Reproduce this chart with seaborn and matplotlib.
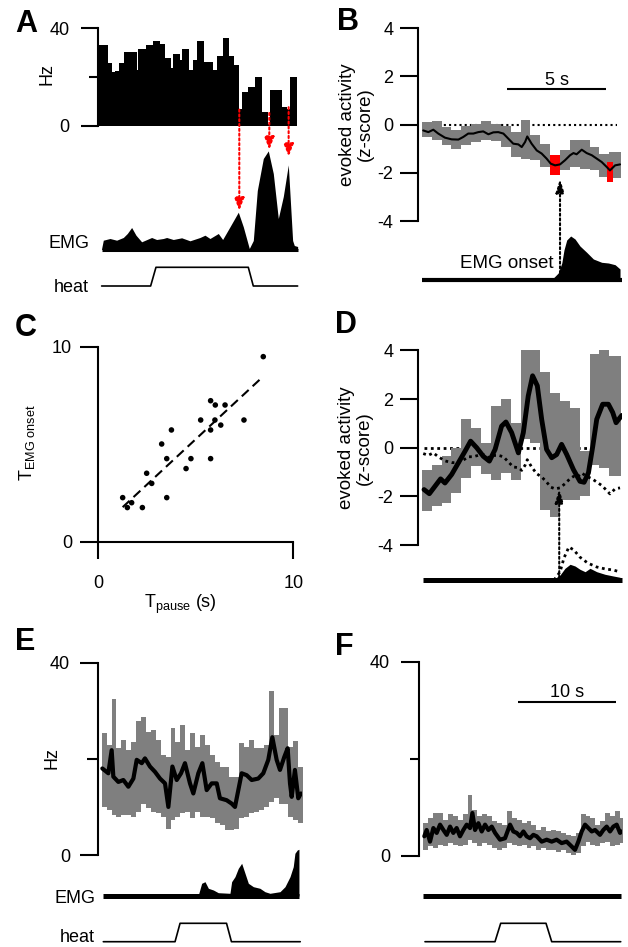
import numpy as np
import matplotlib
matplotlib.use("Agg")
import matplotlib.pyplot as plt
import seaborn as sns

# ---------------- data ----------------
# A: single-trial rate histogram (Hz), EMG envelope and heat stimulus
a_edges = [0, 1.3, 2.0, 2.4, 3.0, 3.8, 5.65, 5.9, 7.0, 7.1, 8.15, 9.15, 9.9, 10.8, 11.15,
           12.15, 12.5, 13.55, 14.05, 14.65, 15.8, 17.15, 17.65, 18.55, 19.55, 20.3, 21.0,
           21.4, 22.4, 23.4, 24.5, 25.3, 25.65, 27.4, 28.15, 28.65, 29.65]
a_rate = [33, 25.6, 22.2, 22.5, 25.6, 30.4, 23, 31.5, 18, 33, 34.8, 33.4, 27.7, 23.8, 29.3,
          27, 31.5, 22.9, 27, 34.8, 26, 22.9, 28.8, 35.9, 28.8, 24.9, 6.8, 13.7, 16, 19.9,
          5.5, 0.5, 14.7, 7.8, 7, 19.9]
a_emg_t = [0.4, 0.65, 1.65, 2.65, 3.65, 4.25, 4.9, 5.55, 6.4, 7.9, 8.65, 9.65, 10.15, 11.15,
           12.4, 13.65, 15.15, 15.9, 16.65, 17.9, 18.55, 19.65, 20.9, 21.65, 22.55, 23.15,
           23.75, 24.65, 25.4, 26.15, 26.9, 27.65, 28.4, 29.05, 29.3, 29.8]
a_emg = [1, 9.3, 11, 9.3, 12, 16, 22, 14.3, 7.7, 12, 10, 11, 12, 10, 11.7, 8.7, 12, 14.3, 11,
         16, 10, 22.7, 37.3, 22.7, 1, 9, 59, 91, 98.6, 76, 31, 53, 84.6, 9, 4, 3]
a_heat_t = [0.4, 7.75, 8.55, 22.4, 23.15, 29.8]
a_heat = [0, 0, 1, 1, 0, 0]
a_arrow_t = [21.05, 25.55, 28.45]
a_arrow_from = [6.6, 5.2, 7.6]
a_arrow_to = [39, 100, 93]

# B: population evoked activity aligned to EMG onset (z-score)
b_t = [-6.93, -6.67, -6.42, -6.17, -5.83, -5.49, -5.15, -4.90, -4.65, -4.39, -4.14, -3.89,
       -3.63, -3.38, -3.13, -2.87, -2.62, -2.37, -2.11, -1.94, -1.77, -1.66, -1.44, -1.18,
       -0.93, -0.68, -0.47, -0.25, 0.0, 0.25, 0.51, 0.68, 0.84, 1.10, 1.35, 1.61, 1.86,
       2.11, 2.37, 2.53, 2.79, 3.04]
b_z = [-0.24, -0.31, -0.21, -0.37, -0.54, -0.61, -0.62, -0.51, -0.37, -0.37, -0.31, -0.28,
       -0.40, -0.32, -0.31, -0.37, -0.58, -0.79, -0.82, -0.93, -0.72, -0.49, -0.79, -1.07,
       -1.20, -1.41, -1.62, -1.69, -1.65, -1.48, -1.27, -1.18, -1.23, -1.04, -1.18, -1.27,
       -1.41, -1.55, -1.76, -1.90, -1.69, -1.65]
bd_edges = [-7.0, -6.5, -6.0, -5.5, -5.0, -4.5, -4.0, -3.5, -3.0, -2.5, -2.0, -1.5, -1.0,
            -0.5, 0.0, 0.5, 1.0, 1.5, 2.0, 2.5, 3.1]
b_hi = [0.11, 0.15, -0.10, -0.21, -0.07, 0.04, 0.15, 0.04, -0.07, -0.31, 0.21, -0.44,
        -0.79, -1.27, -1.07, -0.62, -0.62, -0.93, -1.20, -1.14]
b_lo = [-0.51, -0.62, -0.86, -1.00, -0.86, -0.72, -0.65, -0.68, -0.93, -1.34, -1.41, -1.48,
        -1.76, -2.10, -1.90, -1.76, -1.83, -1.90, -2.17, -2.20]
b_red_t0 = [-0.5, 2.4]
b_red_t1 = [0.0, 2.7]
b_red_hi = [-1.27, -1.55]
b_red_lo = [-2.10, -2.38]
b_emg_t = [-0.34, -0.09, 0.09, 0.20, 0.34, 0.54, 0.76, 1.01, 1.35, 1.69, 2.11, 2.45, 2.79, 3.04]
b_emg = [2, 7, 17, 30, 40, 44, 41, 34, 27.7, 21, 17.7, 17, 15.3, 11]

# C: pause time vs EMG onset time
c_x = [8.46, 5.76, 6.00, 6.50, 5.25, 5.98, 6.28, 7.47, 5.76, 3.75, 3.25, 3.51, 4.75, 5.76,
       4.50, 2.48, 2.74, 3.51, 1.25, 1.71, 1.49, 2.26]
c_y = [9.49, 7.23, 7.01, 7.01, 6.24, 6.24, 5.98, 6.24, 5.73, 5.73, 5.01, 4.26, 4.26, 4.26,
       3.75, 3.51, 2.99, 2.26, 2.26, 2.00, 1.75, 1.75]

# D: second population, with B trace as dotted reference
d_t = [-6.89, -6.62, -6.34, -6.05, -5.83, -5.49, -5.15, -4.81, -4.53, -4.22, -3.89, -3.58,
       -3.29, -2.96, -2.74, -2.45, -2.11, -1.86, -1.61, -1.39, -1.15, -0.93, -0.68, -0.42,
       -0.17, 0.08, 0.34, 0.68, 1.01, 1.22, 1.44, 1.66, 1.86, 2.16, 2.45, 2.67, 2.84, 3.04, 3.13]
d_z = [-1.72, -1.89, -1.59, -1.28, -1.45, -1.10, -0.62, -0.14, 0.27, 0.0, -0.35, -0.55,
       -0.07, 0.89, 1.06, 0.62, -0.21, 0.62, 2.13, 2.96, 2.55, 1.17, -0.07, -0.41, -0.28,
       0.14, -0.28, -0.90, -1.38, -1.42, -1.03, 0.07, 1.17, 1.79, 1.79, 1.45, 1.03, 1.24, 1.33]
d_hi = [-0.90, -0.69, -0.35, 0.0, 1.17, 0.83, 0.21, 1.72, 2.00, 1.03, 4.27, 4.00, 3.10,
        2.27, 1.93, 1.65, -0.14, 3.86, 4.20, 3.79]
d_lo = [-2.62, -2.41, -2.27, -1.86, -1.24, -0.76, -1.10, -1.31, -1.03, -1.31, 0.34, 0.20,
        -2.55, -2.83, -2.14, -2.14, -2.00, -0.69, -0.85, -1.17]
d_emg_t = [-0.25, 0, 0.25, 0.51, 0.76, 1.01, 1.27, 1.52, 1.86, 2.28, 2.70, 3.04]
d_emg = [1.7, 5, 11.7, 15.7, 14, 10.7, 8.3, 11.7, 8.3, 5.7, 4, 2.7]
d_emg_ref_t = [-0.3, 0.0, 0.2, 0.45, 0.7, 1.0, 1.4, 1.86, 2.3, 2.7, 3.04]
d_emg_ref = [0, 8, 22, 33, 30, 23, 17, 13, 11, 10, 8]

# E: rate with EMG during heat (Hz)
e_t = [0.06, 0.67, 1.01, 1.18, 1.69, 2.20, 2.71, 3.22, 3.56, 4.07, 4.40, 4.91, 5.42, 5.93,
       6.44, 6.78, 7.19, 7.63, 8.07, 8.47, 8.98, 9.32, 9.83, 10.24, 10.68, 11.19, 11.70,
       12.03, 12.71, 13.22, 13.56, 13.90, 14.24, 14.75, 15.26, 15.93, 16.44, 16.95, 17.36,
       17.80, 18.14, 18.58, 18.92, 19.16, 19.33, 19.66, 20.00, 20.27]
e_hz = [18.0, 17.0, 21.8, 16.3, 15.2, 15.6, 14.2, 15.9, 19.8, 19.1, 20.1, 18.4, 17.3, 15.9,
        14.9, 10.0, 18.4, 15.6, 17.0, 19.1, 14.9, 12.8, 17.0, 19.1, 13.5, 14.9, 14.9, 11.8,
        11.4, 10.7, 10.0, 13.5, 17.0, 16.6, 15.6, 15.9, 17.0, 19.8, 24.5, 19.8, 17.7, 20.4,
        22.2, 14.9, 12.1, 17.7, 11.8, 12.8]
ef_bin = 0.5
e_up = [25.3, 22.9, 32.4, 22.2, 23.9, 21.8, 23.6, 27.9, 28.8, 25.6, 26.0, 23.9, 20.8, 20.4,
        26.5, 23.6, 27.0, 21.8, 25.4, 22.5, 24.9, 22.9, 20.8, 19.4, 18.4, 18.4, 16.3, 16.3,
        23.2, 22.5, 23.9, 22.2, 22.2, 22.9, 34.2, 24.9, 30.5, 30.5, 22.5, 23.8, 18.4]
e_lo = [10.0, 9.4, 8.3, 8.0, 8.3, 8.3, 8.0, 9.0, 10.7, 9.7, 9.0, 8.7, 8.0, 5.5, 7.3, 8.0,
        8.7, 9.0, 7.6, 9.0, 8.0, 8.0, 7.6, 6.6, 6.2, 5.2, 5.2, 5.5, 7.6, 8.0, 8.7, 9.0, 9.4,
        10.0, 11.1, 11.8, 10.7, 10.7, 8.0, 7.3, 6.6]
e_emg_t = [9.83, 10.17, 10.51, 10.85, 11.36, 11.86, 13.05, 13.22, 13.56, 13.90, 14.24, 14.58,
           14.92, 15.43, 16.10, 16.61, 17.12, 18.14, 18.65, 19.16, 19.49, 19.66, 19.90, 20.07]
e_emg = [1, 12.7, 14.3, 7.7, 6, 3.3, 2.7, 14.3, 19.3, 27.7, 32.7, 22.7, 12.7, 9.3, 7.7, 4.3,
         2.7, 4.3, 9.3, 19.3, 29.3, 42.7, 46, 46.7]
e_heat_t = [0.16, 7.46, 7.97, 12.7, 13.2, 20.2]
e_heat = [0, 0, 1, 1, 0, 0]

# F: rate without EMG (Hz)
f_t = [0.10, 0.34, 0.68, 1.02, 1.36, 1.70, 2.04, 2.38, 2.72, 3.05, 3.39, 3.73, 4.07, 4.41,
       4.75, 4.99, 5.26, 5.60, 5.94, 6.28, 6.62, 6.96, 7.30, 7.80, 8.31, 8.82, 9.16, 9.50,
       9.84, 10.18, 10.51, 10.85, 11.19, 11.53, 12.04, 12.55, 13.06, 13.56, 14.07, 14.58,
       15.09, 15.43, 15.77, 16.11, 16.45, 16.79, 17.13, 17.47, 17.97, 18.31, 18.65, 18.99,
       19.33, 19.67, 20.01, 20.18]
f_hz = [4.0, 5.3, 2.9, 5.7, 4.7, 6.4, 5.3, 4.3, 6.0, 4.7, 5.7, 4.0, 5.3, 6.4, 5.7, 8.8, 5.3,
        6.7, 5.0, 6.4, 5.3, 6.0, 4.7, 3.3, 3.6, 6.4, 5.0, 4.7, 4.0, 5.0, 4.0, 3.6, 4.3, 4.0,
        2.9, 3.3, 2.9, 3.3, 2.6, 2.9, 1.9, 1.2, 2.9, 5.0, 6.4, 5.7, 5.0, 5.3, 4.3, 5.3, 6.0,
        5.0, 6.0, 6.4, 4.7, 5.0]
f_up = [6.7, 7.8, 8.8, 8.8, 7.4, 8.5, 8.1, 7.4, 8.5, 12.6, 9.5, 8.1, 8.5, 8.1, 7.1, 6.7, 6.4,
        9.2, 7.8, 7.4, 6.7, 7.1, 6.4, 5.3, 6.0, 5.0, 5.3, 5.0, 4.7, 4.3, 4.0, 4.7, 8.5, 8.1,
        7.8, 6.4, 7.1, 8.8, 8.1, 9.2, 7.8]
f_lo = [1.2, 1.9, 1.5, 2.2, 1.9, 2.6, 2.2, 1.9, 2.2, 3.3, 2.6, 1.9, 2.6, 2.2, 1.5, 1.2, 1.5,
        2.6, 2.2, 1.9, 2.2, 1.5, 1.9, 1.2, 1.5, 1.2, 1.2, 0.8, 1.2, 0.5, 0.15, 0.5, 1.9, 2.9,
        2.2, 1.9, 2.6, 2.9, 1.9, 2.2, 2.6]
f_heat_t = [0.17, 7.29, 7.87, 12.48, 13.06, 20.08]
f_heat = [0, 0, 1, 1, 0, 0]

GREY = "#7f7f7f"

sns.set_theme(style="ticks", rc={
    "axes.edgecolor": "black", "axes.linewidth": 1.5,
    "xtick.color": "black", "ytick.color": "black",
    "text.color": "black", "axes.labelcolor": "black",
})
plt.rcParams["font.family"] = ["Liberation Sans", "DejaVu Sans"]
plt.rcParams["axes.unicode_minus"] = False

W, H = 628, 947
fig = plt.figure(figsize=(W / 100, H / 100), dpi=100)


def box(x0, y0, x1, y1):
    # axes placed by pixel corners (top-left origin)
    ax = fig.add_axes([x0 / W, 1 - y1 / H, (x1 - x0) / W, (y1 - y0) / H])
    ax.patch.set_alpha(0)
    return ax


def label(x, y, s, **kw):
    kw.setdefault("fontsize", 13)
    fig.text(x / W, 1 - y / H, s, **kw)


def yaxis(ax, major, minor=(), length=12.7, mlen=6.5, pad=6):
    sns.despine(ax=ax, bottom=True)
    ax.set_xticks([])
    ax.set_yticks(major)
    ax.set_yticklabels([str(v) for v in major])
    ax.set_yticks(list(minor), minor=True)
    ax.tick_params(axis="y", which="major", length=length, width=1.5, pad=pad, labelsize=13)
    ax.tick_params(axis="y", which="minor", length=mlen, width=1.5)


def band(ax, edges, lo, hi, color=GREY):
    ax.fill_between(edges, list(lo) + [lo[-1]], list(hi) + [hi[-1]], step="post",
                    color=color, lw=0, zorder=1)


def trace_ax(x0, y0, x1, y1, xlim, ylim):
    ax = box(x0, y0, x1, y1)
    ax.set_xlim(*xlim)
    ax.set_ylim(*ylim)
    ax.set_axis_off()
    return ax


def arrow(ax_to, xy, ax_from, xytext, color, head="-|>,head_length=0.8,head_width=0.25"):
    ax_to.annotate("", xy=xy, xycoords=ax_to.transData, xytext=xytext,
                   textcoords=ax_from.transData, annotation_clip=False,
                   arrowprops=dict(arrowstyle=head, color=color, lw=1.5, linestyle=(0, (1, 1.3)),
                                   mutation_scale=10, shrinkA=0, shrinkB=0))


DOT = (0, (1, 1.5))

# ---------------- A ----------------
a_xlim = (-0.1, 29.75)
ax = box(98.3, 28.3, 297.3, 125.7)
centers = [(a_edges[i] + a_edges[i + 1]) / 2 for i in range(len(a_rate))]
sns.histplot(x=centers, weights=a_rate, bins=a_edges, element="step", fill=True,
             color="black", alpha=1, linewidth=0, ax=ax)
ax.set_xlim(*a_xlim)
ax.set_ylim(0, 40)
ax.set_ylabel("")
yaxis(ax, [0, 40], [20], length=12.5, mlen=6.5, pad=8.4)
ax_a = ax
label(47, 74, "Hz", rotation=90, ha="center", va="center")

ax = trace_ax(98.3, 150, 297.3, 249.5, a_xlim, (0, 99.5))
ax.plot([a_emg_t[0], a_emg_t[-1]], [0, 0], color="black", lw=2.2, solid_capstyle="butt", clip_on=False)
ax.fill_between(a_emg_t, 0, a_emg, color="black", lw=0, clip_on=False)
for t, y0, y1 in zip(a_arrow_t, a_arrow_from, a_arrow_to):
    arrow(ax, (t, y1), ax_a, (t, y0), "red", head="-|>,head_length=0.75,head_width=0.3")
ax = trace_ax(98.3, 267.3, 297.3, 286, a_xlim, (0, 1))
ax.plot(a_heat_t, a_heat, color="black", lw=1.2, clip_on=False)
label(90, 248, "EMG", ha="right", va="baseline")
label(89, 292, "heat", ha="right", va="baseline")

# ---------------- B ----------------
bd_xlim = (-7.18, 3.14)
ax = box(418.3, 28.3, 622, 221)
band(ax, bd_edges, b_lo, b_hi)
ax.bar(b_red_t0, np.subtract(b_red_hi, b_red_lo), bottom=b_red_lo,
       width=np.subtract(b_red_t1, b_red_t0), align="edge", color="red", lw=0, zorder=2)
ax.plot([b_t[0], 2.87], [0, 0], color="black", lw=1.5, ls=DOT, zorder=0.5)
sns.lineplot(x=b_t, y=b_z, color="black", lw=1.5, estimator=None, sort=False, ax=ax, zorder=3)
ax.plot([-2.67, 2.33], [1.49, 1.49], color="black", lw=1.5, solid_capstyle="butt")
ax.text(-0.17, 1.63, "5 s", ha="center", va="baseline", fontsize=13)
ax.set_xlim(*bd_xlim)
ax.set_ylim(-4, 4)
yaxis(ax, [-4, -2, 0, 2, 4], pad=5.3)
ax_b = ax
label(356.7, 124.6, "evoked activity\n(z-score)", rotation=90, ha="center", va="center",
      linespacing=1.05, fontsize=13.5)
ax = trace_ax(418.3, 230, 622, 280, bd_xlim, (0, 50))
ax.plot([-6.97, 3.13], [0, 0], color="black", lw=3, solid_capstyle="butt", clip_on=False)
ax.fill_between(b_emg_t, 0, b_emg, color="black", lw=0, clip_on=False)
arrow(ax_b, (0, -2.25), ax, (0, 2), "black")
label(553.3, 268, "EMG onset", ha="right", va="baseline", fontsize=13.5)

# ---------------- C ----------------
ax = box(98.3, 346.7, 293.3, 541.7)
sns.regplot(x=c_x, y=c_y, ci=None, scatter=False, color="black",
            line_kws=dict(lw=1.5, ls=(0, (4.5, 2.6))), ax=ax)
sns.scatterplot(x=c_x, y=c_y, color="black", s=16, edgecolor="none", ax=ax, zorder=3)
ax.set_xlim(0, 10)
ax.set_ylim(0, 10)
ax.set_xlabel("")
ax.set_ylabel("")
sns.despine(ax=ax)
ax.set_xticks([0, 10])
ax.set_yticks([0, 10])
ax.tick_params(axis="x", length=12.2, width=1.5, pad=11.5, labelsize=13)
ax.tick_params(axis="y", length=13, width=1.5, pad=6, labelsize=13)
label(180, 608.3, r"$\mathregular{T_{pause}}$ (s)", ha="center", va="baseline")
label(27, 443, r"$\mathregular{T_{EMG\ onset}}$", rotation=90, ha="center", va="center")

# ---------------- D ----------------
ax = box(418.3, 350.5, 622, 545)
ax.plot([d_t[0], 2.87], [0, 0], color="black", lw=2, ls=(0, (1, 1.3)), zorder=0.5)
band(ax, bd_edges, d_lo, d_hi)
ax.plot(b_t, b_z, color="black", lw=2, ls=(0, (1, 1.3)), zorder=3)
sns.lineplot(x=d_t, y=d_z, color="black", lw=3.5, estimator=None, sort=False, ax=ax, zorder=4)
ax.set_xlim(*bd_xlim)
ax.set_ylim(-4, 4)
yaxis(ax, [-4, -2, 0, 2, 4], pad=5.3)
ax_d = ax
label(355.7, 447.7, "evoked activity\n(z-score)", rotation=90, ha="center", va="center",
      linespacing=1.05, fontsize=13.5)
ax = trace_ax(418.3, 530, 622, 580, bd_xlim, (0, 50))
ax.plot([-6.93, 3.13], [0, 0], color="black", lw=3.6, solid_capstyle="butt", clip_on=False)
ax.fill_between(d_emg_t, 0, d_emg, color="black", lw=0, clip_on=False)
ax.plot(d_emg_ref_t, d_emg_ref, color="black", lw=2, ls=(0, (1, 1.3)), clip_on=False)
arrow(ax_d, (-0.04, -1.7), ax, (-0.04, 2), "black")

# ---------------- E ----------------
e_xlim = (-0.35, 20.35)
ax = box(98.3, 662.7, 301.7, 855)
band(ax, np.arange(len(e_up) + 1) * ef_bin, e_lo, e_up)
sns.lineplot(x=e_t, y=e_hz, color="black", lw=3, estimator=None, sort=False, ax=ax, zorder=3)
ax.set_xlim(*e_xlim)
ax.set_ylim(0, 40)
yaxis(ax, [0, 40], [20], length=13.2, mlen=8, pad=7.2)
label(52, 758, "Hz", rotation=90, ha="center", va="center")
ax = trace_ax(98.3, 846, 301.7, 896, e_xlim, (0, 50))
ax.plot([e_heat_t[0], e_emg_t[-1]], [0, 0], color="black", lw=3.6, solid_capstyle="butt", clip_on=False)
ax.fill_between(e_emg_t, 0, e_emg, color="black", lw=0, clip_on=False)
ax = trace_ax(98.3, 923.3, 301.7, 941.7, e_xlim, (0, 1))
ax.plot(e_heat_t, e_heat, color="black", lw=1.2, clip_on=False)
label(95, 903.3, "EMG", ha="right", va="baseline")
label(95, 942, "heat", ha="right", va="baseline")

# ---------------- F ----------------
f_xlim = (-0.44, 20.21)
ax = box(419, 661.7, 622, 855.7)
band(ax, np.arange(len(f_up) + 1) * ef_bin, f_lo, f_up)
sns.lineplot(x=f_t, y=f_hz, color="black", lw=3, estimator=None, sort=False, ax=ax, zorder=3)
ax.plot([9.6, 19.6], [31.75, 31.75], color="black", lw=1.5, solid_capstyle="butt")
ax.text(14.6, 32.8, "10 s", ha="center", va="baseline", fontsize=13)
ax.set_xlim(*f_xlim)
ax.set_ylim(0, 40)
yaxis(ax, [0, 40], [20], length=13.2, mlen=6.5, pad=7.7)
ax = trace_ax(419, 846, 622, 896, f_xlim, (0, 50))
ax.plot([0, f_heat_t[-1]], [0, 0], color="black", lw=3.6, solid_capstyle="butt", clip_on=False)
ax = trace_ax(419, 923.3, 622, 941.7, f_xlim, (0, 1))
ax.plot(f_heat_t, f_heat, color="black", lw=1.2, clip_on=False)

# panel letters
for s, x, y in [("A", 15, 32), ("B", 336.7, 30), ("C", 15, 336.5),
                ("D", 335, 333), ("E", 15, 650), ("F", 335, 655)]:
    label(x, y, s, fontsize=22, fontweight="bold", ha="left", va="baseline")

fig.savefig("out.png", dpi=100)
